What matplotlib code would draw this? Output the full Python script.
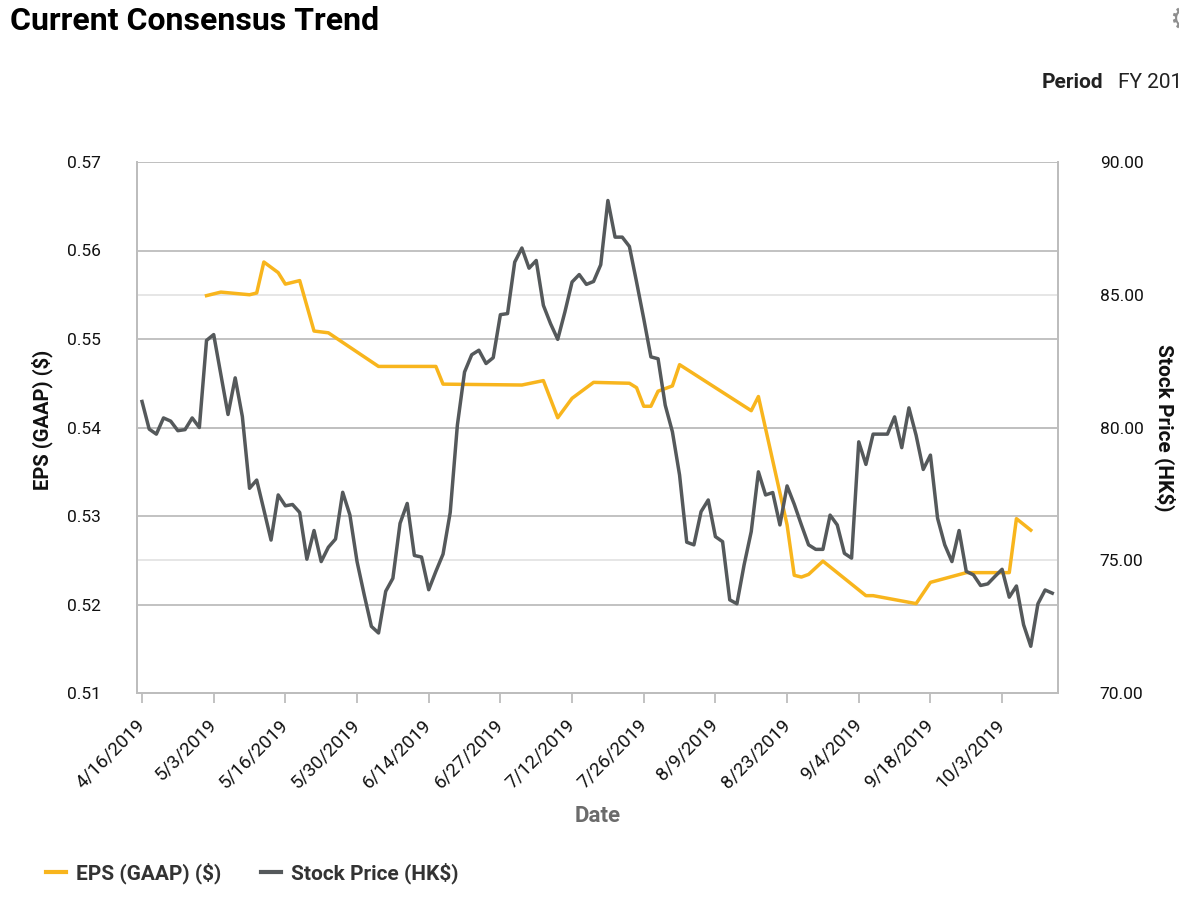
"""
Current Consensus Trend - EPS (GAAP) vs Stock Price (HK$)
"""

# ==========================================================
# IMPORTS
# ==========================================================

import matplotlib
matplotlib.use("Agg")
import matplotlib.pyplot as plt

# ==========================================================
# DATA
# ==========================================================

# tick labels, one every 10 trading days
date_labels = [
    "4/16/2019", "5/3/2019", "5/16/2019", "5/30/2019", "6/14/2019",
    "6/27/2019", "7/12/2019", "7/26/2019", "8/9/2019", "8/23/2019",
    "9/4/2019", "9/18/2019", "10/3/2019",
]

# stock price (HK$), one value per trading day
stock_price = [
    80.98, 79.94, 79.75, 80.36, 80.24, 79.88, 79.92, 80.36, 80.00, 83.28,
    83.50, 82.00, 80.49, 81.87, 80.41, 77.71, 78.02, 76.90, 75.76, 77.46,
    77.05, 77.10, 76.80, 75.04, 76.12, 74.95, 75.49, 75.80, 77.56, 76.71,
    74.95, 73.70, 72.51, 72.26, 73.83, 74.32, 76.39, 77.14, 75.18, 75.12,
    73.89, 74.58, 75.23, 76.80, 80.09, 82.09, 82.74, 82.91, 82.41, 82.63,
    84.25, 84.29, 86.23, 86.76, 86.00, 86.29, 84.60, 83.91, 83.32, 84.35,
    85.48, 85.76, 85.39, 85.50, 86.13, 88.55, 87.17, 87.17, 86.82, 85.48,
    84.10, 82.66, 82.59, 80.84, 79.84, 78.21, 75.68, 75.58, 76.83, 77.27,
    75.89, 75.70, 73.51, 73.36, 74.82, 76.08, 78.33, 77.46, 77.55, 76.33,
    77.80, 77.11, 76.33, 75.58, 75.41, 75.41, 76.70, 76.33, 75.26, 75.08,
    79.46, 78.61, 79.75, 79.75, 79.75, 80.40, 79.24, 80.74, 79.71, 78.42,
    78.96, 76.58, 75.58, 74.95, 76.12, 74.58, 74.45, 74.05, 74.11, 74.39,
    74.66, 73.61, 74.03, 72.57, 71.76, 73.36, 73.88, 73.76,
]

# EPS consensus only changes on some days (trading day number, value)
eps_day = [
    9, 11, 15, 16, 17, 19, 20, 22, 24, 26,
    33, 41, 42, 53, 56, 58, 60, 63, 68, 69,
    70, 71, 72, 74, 75, 85, 86, 90, 91, 92,
    93, 95, 101, 102, 108, 110, 115, 121, 122, 124,
]

eps_value = [
    0.5549, 0.5553, 0.5550, 0.5552, 0.5587, 0.5575, 0.5562, 0.5566, 0.5509, 0.5507,
    0.5469, 0.5469, 0.5449, 0.5448, 0.5453, 0.5411, 0.5433, 0.5451, 0.5450, 0.5445,
    0.5424, 0.5424, 0.5441, 0.5447, 0.5471, 0.5419, 0.5435, 0.5290, 0.5233, 0.5231,
    0.5234, 0.5249, 0.5210, 0.5210, 0.5201, 0.5225, 0.5236, 0.5236, 0.5297, 0.5284,
]

eps_ticks = [0.51, 0.52, 0.53, 0.54, 0.55, 0.56, 0.57]
price_ticks = [70, 75, 80, 85, 90]

# ==========================================================
# STYLE
# ==========================================================

YELLOW = "#F8B51D"
DARK = "#55595B"
GRID_DARK = "#BDBDBD"
GRID_LIGHT = "#E4E4E4"
FONT = "Roboto"

plt.rcParams["font.family"] = [FONT, "DejaVu Sans"]

# ==========================================================
# PLOT
# ==========================================================

def make_chart():

    fig = plt.figure(figsize=(11.79, 9.08), dpi=100)

    rect = [137 / 1179, 215 / 908, 921 / 1179, 531 / 908]

    # back axes: right scale + light grid
    ax2 = fig.add_axes(rect, zorder=1)
    ax2.yaxis.tick_right()
    ax2.yaxis.set_label_position("right")

    # front axes: left scale + both lines
    ax1 = fig.add_axes(rect, zorder=2, sharex=ax2)
    ax1.patch.set_visible(False)

    days = list(range(len(stock_price)))

    eps_line, = ax1.plot(
        eps_day,
        eps_value,
        color=YELLOW,
        linewidth=2.5,
        zorder=3
    )

    price_line, = ax1.plot(
        days,
        stock_price,
        color=DARK,
        linewidth=2.5,
        transform=ax2.transData,
        zorder=4
    )

    ax2.set_xlim(-0.7, 127.8)
    ax2.set_ylim(70, 90)
    ax1.set_ylim(0.51, 0.57)

    # left axis
    ax1.set_yticks(eps_ticks)
    ax1.set_yticklabels([f"{v:.2f}" for v in eps_ticks])
    ax1.tick_params(axis="y", length=0, pad=26, labelsize=12.5, labelcolor="#111111")
    ax1.grid(axis="y", color=GRID_DARK, linewidth=1.3)
    ax1.grid(axis="x", visible=False)

    # right axis
    ax2.set_yticks(price_ticks)
    ax2.set_yticklabels([f"{v:.2f}" for v in price_ticks])
    ax2.tick_params(axis="y", length=0, pad=30, labelsize=12.5, labelcolor="#111111")
    ax2.grid(axis="y", color=GRID_LIGHT, linewidth=1.3)

    # x axis
    tick_pos = list(range(0, 10 * len(date_labels), 10))
    ax2.set_xticks(tick_pos)
    ax2.set_xticklabels(date_labels, rotation=45, ha="right", va="center",
                        rotation_mode="anchor")
    ax2.tick_params(axis="x", length=7, width=1.3, color=GRID_DARK,
                    pad=14, labelsize=13.5, labelcolor="#111111")
    ax1.tick_params(axis="x", length=0, labelbottom=False)

    for ax in (ax1, ax2):
        for side in ("left", "right", "bottom", "top"):
            ax.spines[side].set_color(GRID_DARK)
            ax.spines[side].set_linewidth(1.3)
        ax.spines["top"].set_visible(False)

    # axis titles
    fig.text(42 / 1179, 1 - 420 / 908, "EPS (GAAP) ($)", rotation=90,
             ha="center", va="center", fontsize=14.5, fontweight="bold",
             color="#111111")
    fig.text(1165 / 1179, 1 - 428 / 908, "Stock Price (HK$)", rotation=270,
             ha="center", va="center", fontsize=15, fontweight="bold",
             color="#111111")
    fig.text(598 / 1179, 1 - 816 / 908, "Date", ha="center", va="center",
             fontsize=16, fontweight="bold", color="#6B6B6B")

    # header
    fig.text(10 / 1179, 1 - 21 / 908, "Current Consensus Trend",
             ha="left", va="center", fontsize=23, fontweight="bold",
             color="#000000")
    fig.text(1042 / 1179, 1 - 82 / 908, "Period", ha="left", va="center",
             fontsize=15, fontweight="bold", color="#222222")
    fig.text(1118 / 1179, 1 - 82 / 908, "FY 2019", ha="left", va="center",
             fontsize=15, color="#222222")
    fig.text(1169 / 1179, 1 - 21 / 908, "\u2699", ha="left", va="center",
             fontsize=22, color="#8E8E8E", family="DejaVu Sans")

    # legend
    fig.legend(
        [eps_line, price_line],
        ["EPS (GAAP) ($)", "Stock Price (HK$)"],
        loc="center left",
        bbox_to_anchor=(27 / 1179, 1 - 873 / 908),
        ncol=2,
        frameon=False,
        handlelength=0.95,
        handletextpad=0.5,
        columnspacing=1.9,
        prop={"family": FONT, "weight": "bold", "size": 15},
        labelcolor="#333333"
    )
    for line in fig.legends[0].get_lines():
        line.set_linewidth(3)

    fig.savefig("out.png", dpi=100)
    plt.close(fig)

# ==========================================================
# DRIVER
# ==========================================================

if __name__ == "__main__":

    make_chart()
